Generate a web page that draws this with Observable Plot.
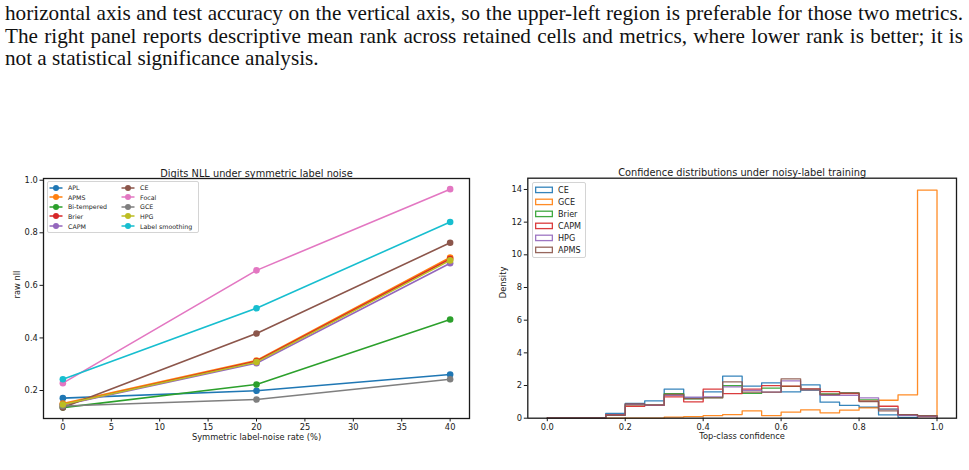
<!DOCTYPE html>
<html>
<head>
<meta charset="utf-8">
<script src="https://cdn.jsdelivr.net/npm/d3@7"></script>
<script src="https://cdn.jsdelivr.net/npm/@observablehq/plot@0.6"></script>
<style>
  body { margin: 0; background: #fff; }
  #page { position: relative; width: 969px; height: 470px; overflow: hidden; background: #fff; }
  .para { position: absolute; left: 5px; font-family: "Liberation Serif", "DejaVu Serif", serif;
          font-size: 22px; line-height: 22.5px; color: #111; white-space: nowrap; }
  .panel { position: absolute; top: 160px; }
  .legend { position: absolute; background: rgba(255,255,255,0.85); border: 1px solid #d4d4d4; border-radius: 2px;
            font-family: "DejaVu Sans", sans-serif; color: #222; }
  .legend .item { position: absolute; display: flex; align-items: center; white-space: nowrap; }
  .legend svg { display: block; }
</style>
</head>
<body>
<div id="page">
  <div class="para full" style="top:2.3px">horizontal axis and test accuracy on the vertical axis, so the upper-left region is preferable for those two metrics.</div>
  <div class="para full" style="top:24.8px">The right panel reports descriptive mean rank across retained cells and metrics, where lower rank is better; it is</div>
  <div class="para" style="top:47.3px">not a statistical significance analysis.</div>
  <div id="left" class="panel" style="left:0px"></div>
  <div id="right" class="panel" style="left:480px"></div>
</div>
<script>
// ---------- Left panel: NLL vs. symmetric label-noise rate ----------
const noiseRates = [0, 20, 40];
const lineMethods = ["APL", "APMS", "Bi-tempered", "Brier", "CAPM", "CE", "Focal", "GCE", "HPG", "Label smoothing"];
const lineColors = ["#1f77b4", "#ff7f0e", "#2ca02c", "#d62728", "#9467bd", "#8c564b", "#e377c2", "#7f7f7f", "#bcbd22", "#17becf"];
const nllAPL = [0.171, 0.199, 0.261];
const nllAPMS = [0.150, 0.314, 0.706];
const nllBiTempered = [0.135, 0.223, 0.470];
const nllBrier = [0.146, 0.311, 0.700];
const nllCAPM = [0.145, 0.304, 0.684];
const nllCE = [0.135, 0.417, 0.762];
const nllFocal = [0.228, 0.657, 0.966];
const nllGCE = [0.141, 0.166, 0.243];
const nllHPG = [0.147, 0.308, 0.695];
const nllLabelSmoothing = [0.243, 0.513, 0.841];
const nllSeries = [nllAPL, nllAPMS, nllBiTempered, nllBrier, nllCAPM, nllCE, nllFocal, nllGCE, nllHPG, nllLabelSmoothing];
const xTicksLeft = [0, 5, 10, 15, 20, 25, 30, 35, 40];
const yTicksLeft = [0.2, 0.4, 0.6, 0.8, 1.0];

// ---------- Right panel: top-class confidence histograms ----------
const binEdges = d3.range(20).map(i => i / 20);
const histMethods = ["CE", "GCE", "Brier", "CAPM", "HPG", "APMS"];
const histColors = ["#1f77b4", "#ff7f0e", "#2ca02c", "#d62728", "#9467bd", "#8c564b"];
const densCE    = [0, 0, 0, 0.30, 0.90, 1.06, 1.78, 1.25, 1.61, 2.57, 1.96, 2.16, 1.61, 2.04, 0.98, 0.78, 0.67, 0.20, 0.05, 0.15];
const densGCE   = [0, 0, 0, 0, 0, 0, 0.06, 0.10, 0.16, 0.22, 0.45, 0.16, 0.37, 0.51, 0.33, 0.49, 0.63, 1.10, 1.43, 13.96];
const densBrier = [0, 0, 0, 0.20, 0.82, 0.80, 1.50, 1.18, 1.26, 2.00, 1.52, 1.84, 1.95, 1.70, 1.48, 1.55, 1.12, 0.55, 0.20, 0.12];
const densCAPM  = [0, 0, 0, 0.22, 0.73, 0.78, 1.31, 1.00, 1.78, 1.51, 1.78, 2.00, 1.96, 1.80, 1.63, 1.50, 1.05, 0.73, 0.20, 0.10];
const densHPG   = [0, 0, 0, 0.18, 0.85, 0.80, 1.40, 1.29, 1.30, 1.92, 1.70, 1.60, 2.29, 1.72, 1.40, 1.40, 1.24, 0.55, 0.18, 0.12];
const densAPMS  = [0, 0, 0, 0.18, 0.88, 0.82, 1.45, 1.20, 1.24, 2.22, 1.59, 1.59, 2.41, 1.78, 1.45, 1.55, 1.02, 0.45, 0.22, 0.15];
const densSeries = [densCE, densGCE, densBrier, densCAPM, densHPG, densAPMS];
const xTicksRight = [0, 0.2, 0.4, 0.6, 0.8, 1.0];
const yTicksRight = [0, 2, 4, 6, 8, 10, 12, 14];

// ---------- Paragraph above the figure: fit and justify the full lines ----------
(function justifyParagraph() {
  const target = 958;
  const lines = Array.from(document.querySelectorAll(".para"));
  const full = lines.filter(el => el.classList.contains("full"));
  let fs = 22;
  full.forEach(el => { fs = Math.min(fs, 22 * (target - 6) / el.getBoundingClientRect().width); });
  lines.forEach(el => { el.style.fontSize = fs + "px"; });
  full.forEach(el => {
    const w = el.getBoundingClientRect().width;
    const gaps = (el.textContent.match(/ /g) || []).length;
    el.style.wordSpacing = ((target - w) / gaps) + "px";
  });
})();

const ink = "#1a1a1a";
const baseStyle = { fontFamily: "DejaVu Sans, sans-serif", fontSize: "8.3px", color: ink, background: "white", overflow: "visible" };

// Left: one line + dots per method, drawn in legend order
const nllRows = lineMethods.map((m, i) => noiseRates.map((r, j) => ({ method: m, rate: r, nll: nllSeries[i][j] })));
const leftMarks = [];
nllRows.forEach(rows => {
  leftMarks.push(Plot.line(rows, { x: "rate", y: "nll", stroke: "method", strokeWidth: 1.6 }));
  leftMarks.push(Plot.dot(rows, { x: "rate", y: "nll", fill: "method", r: 3.3, stroke: null }));
});

const leftPlot = Plot.plot({
  width: 480, height: 290,
  marginLeft: 43, marginRight: 11, marginTop: 18, marginBottom: 32,
  style: baseStyle,
  x: { domain: [-2, 42] },
  y: { domain: [0.0935, 1.0065] },
  color: { domain: lineMethods, range: lineColors },
  marks: [
    ...leftMarks,
    Plot.frame({ stroke: ink, strokeWidth: 1.3 }),
    Plot.axisX({ ticks: xTicksLeft, tickSize: 3.5, tickPadding: 2.3, label: null, tickFormat: d3.format("d") }),
    Plot.axisY({ ticks: yTicksLeft, tickSize: 3.5, tickPadding: 2.2, label: null, tickFormat: d3.format(".1f") }),
    Plot.text(["Digits NLL under symmetric label noise"], { text: d => d, frameAnchor: "top", dy: -8.8, fontSize: 9.8 }),
    Plot.text(["Symmetric label-noise rate (%)"], { text: d => d, frameAnchor: "bottom", dy: 21, fontSize: 8.3 }),
    Plot.text(["raw nll"], { text: d => d, frameAnchor: "left", dx: -26, rotate: -90, fontSize: 8.3 })
  ]
});
document.getElementById("left").appendChild(leftPlot);

// Right: step outlines of density histograms
const stepRows = histMethods.map((m, i) => [
  { method: m, x: 0, d: 0 },
  ...binEdges.map((e, k) => ({ method: m, x: e, d: densSeries[i][k] })),
  { method: m, x: 1, d: 0 }
]);
const rightPlot = Plot.plot({
  width: 489, height: 290,
  marginLeft: 47.3, marginRight: 13, marginTop: 17.7, marginBottom: 32.3,
  style: baseStyle,
  x: { domain: [-0.05, 1.05] },
  y: { domain: [0, 14.69] },
  color: { domain: histMethods, range: histColors },
  marks: [
    ...stepRows.map(rows => Plot.line(rows, { x: "x", y: "d", stroke: "method", curve: "step-after", strokeWidth: 1.3, strokeOpacity: 0.9 })),
    Plot.frame({ stroke: ink, strokeWidth: 1.3 }),
    Plot.axisX({ ticks: xTicksRight, tickSize: 3.5, tickPadding: 2.3, label: null, tickFormat: d3.format(".1f") }),
    Plot.axisY({ ticks: yTicksRight, tickSize: 3.5, tickPadding: 2.2, label: null, tickFormat: d3.format("d") }),
    Plot.text(["Confidence distributions under noisy-label training"], { text: d => d, frameAnchor: "top", dy: -8.8, fontSize: 9.8 }),
    Plot.text(["Top-class confidence"], { text: d => d, frameAnchor: "bottom", dy: 21, fontSize: 8.3 }),
    Plot.text(["Density"], { text: d => d, frameAnchor: "left", dx: -24, rotate: -90, fontSize: 8.3 })
  ]
});
document.getElementById("right").appendChild(rightPlot);

// ---------- Legends ----------
const page = document.getElementById("page");

// Left legend: two columns of line+marker swatches
const legL = document.createElement("div");
legL.className = "legend";
Object.assign(legL.style, { left: "46.5px", top: "181px", width: "150px", height: "50px", fontSize: "6.3px" });
lineMethods.forEach((m, i) => {
  const col = Math.floor(i / 5), row = i % 5;
  const it = document.createElement("div");
  it.className = "item";
  Object.assign(it.style, { left: (col ? 73.5 : 1.5) + "px", top: (1.5 + row * 9.65) + "px", height: "8px" });
  it.innerHTML = `<svg width="14" height="8"><line x1="0.5" y1="4" x2="13.5" y2="4" stroke="${lineColors[i]}" stroke-width="1.5"/><circle cx="7" cy="4" r="3" fill="${lineColors[i]}"/></svg><span style="margin-left:5px">${m}</span>`;
  legL.appendChild(it);
});
page.appendChild(legL);

// Right legend: outlined patch swatches
const legR = document.createElement("div");
legR.className = "legend";
Object.assign(legR.style, { left: "531.5px", top: "182px", width: "52px", height: "74px", fontSize: "8.1px" });
histMethods.forEach((m, i) => {
  const it = document.createElement("div");
  it.className = "item";
  Object.assign(it.style, { left: "2px", top: (1 + i * 12.05) + "px", height: "12px" });
  it.innerHTML = `<svg width="18" height="8"><rect x="0.65" y="1.2" width="16.7" height="5.4" fill="none" stroke="${histColors[i]}" stroke-width="1.3" stroke-opacity="0.9"/></svg><span style="margin-left:5.5px">${m}</span>`;
  legR.appendChild(it);
});
page.appendChild(legR);
</script>
</body>
</html>
